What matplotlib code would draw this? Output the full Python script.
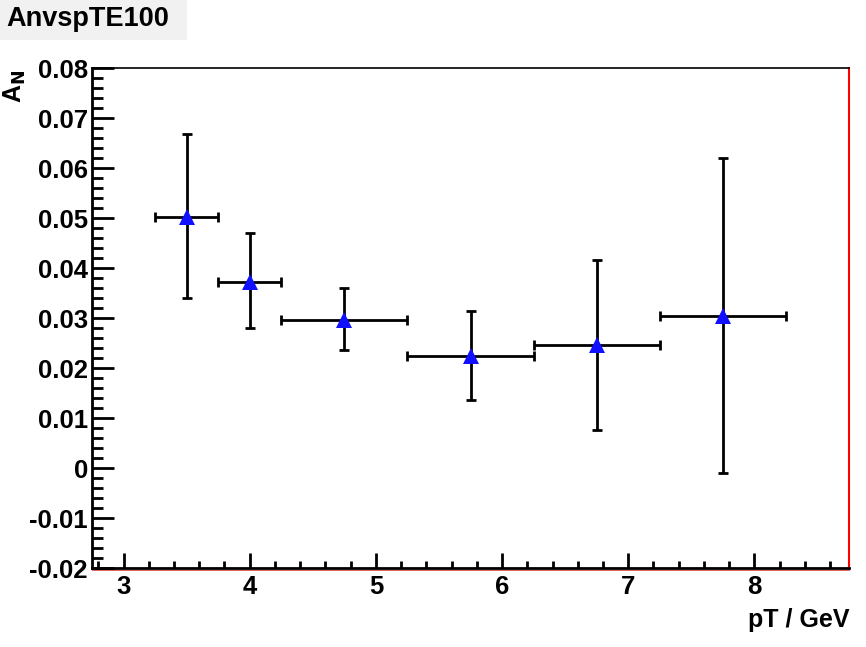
import matplotlib
matplotlib.use("Agg")
import matplotlib.pyplot as plt
from matplotlib.ticker import MultipleLocator, FixedLocator
from matplotlib.patches import Rectangle
from matplotlib.lines import Line2D

plt.rcParams['font.family'] = ['Liberation Sans', 'DejaVu Sans']

# data
pt = [3.5, 4.0, 4.75, 5.75, 6.75, 7.75]
pt_lo = [3.25, 3.75, 4.25, 5.25, 6.25, 7.25]
pt_hi = [3.75, 4.25, 5.25, 6.25, 7.25, 8.25]
an = [0.0502, 0.0373, 0.0296, 0.0224, 0.0246, 0.0304]
an_up = [0.0668, 0.0470, 0.0360, 0.0314, 0.0416, 0.0620]
an_dn = [0.0340, 0.0280, 0.0236, 0.0136, 0.0076, -0.0010]
xticks = [3, 4, 5, 6, 7, 8]
yticks = [-0.02, -0.01, 0, 0.01, 0.02, 0.03, 0.04, 0.05, 0.06, 0.07, 0.08]
yticklabels = ['-0.02', '-0.01', '0', '0.01', '0.02', '0.03', '0.04', '0.05', '0.06', '0.07', '0.08']

W, H = 866, 647
fig = plt.figure(figsize=(W / 100, H / 100), dpi=100)
fig.patch.set_facecolor('white')
ax = fig.add_axes([92 / W, 1 - 568 / H, (849 - 92) / W, (568 - 68) / H])

xerr = [[p - l for p, l in zip(pt, pt_lo)], [h - p for p, h in zip(pt, pt_hi)]]
yerr = [[a - d for a, d in zip(an, an_dn)], [u - a for a, u in zip(an, an_up)]]
ax.errorbar(pt, an, xerr=xerr, yerr=yerr, fmt='none', ecolor='black',
            elinewidth=2, capsize=3.5, capthick=2, zorder=2)
ax.plot(pt, an, linestyle='none', marker='^', color='#1010ff', markersize=12,
        markeredgewidth=0, zorder=3)

ax.set_xlim(2.75, 8.75)
ax.set_ylim(-0.02, 0.08)
ax.xaxis.set_major_locator(FixedLocator(xticks))
ax.xaxis.set_minor_locator(MultipleLocator(0.2))
ax.yaxis.set_major_locator(FixedLocator(yticks))
ax.set_yticklabels(yticklabels)
ax.set_xticklabels([str(t) for t in xticks])
ax.yaxis.set_minor_locator(MultipleLocator(0.002))

ax.tick_params(axis='both', which='both', direction='in', width=2, color='black',
               labelsize=18.5, top=False, right=False)
ax.tick_params(axis='y', which='major', length=16, pad=3)
ax.tick_params(axis='y', which='minor', length=8)
ax.tick_params(axis='x', which='major', length=11, pad=5)
ax.tick_params(axis='x', which='minor', length=5)
for lab in ax.get_xticklabels() + ax.get_yticklabels():
    lab.set_fontweight('bold')

ax.spines['left'].set_linewidth(2)
ax.spines['bottom'].set_linewidth(2)
ax.spines['top'].set_linewidth(1.2)
ax.spines['right'].set_color('red')
ax.spines['right'].set_linewidth(1.5)

fig.add_artist(Line2D([92 / W, 849 / W], [1 - 569.5 / H, 1 - 569.5 / H],
                      transform=fig.transFigure, color='#e04040', linewidth=0.6, zorder=1))

fig.text(849 / W, 1 - 620 / H, 'pT / GeV', ha='right', va='center',
         fontsize=18, fontweight='bold')
fig.text(15 / W, 1 - 86 / H, r'A$_\mathbf{N}$', ha='center', va='center', rotation=90,
         fontsize=18, fontweight='bold')

fig.patches.append(Rectangle((0, 1 - 40 / H), 187 / W, 40 / H, transform=fig.transFigure,
                             facecolor='#f0f1f0', edgecolor='none', zorder=0))
fig.text(6 / W, 1 - 19 / H, 'AnvspTE100', ha='left', va='center',
         fontsize=19.5, fontweight='bold')

fig.savefig('out.png', dpi=100, facecolor=fig.get_facecolor())
